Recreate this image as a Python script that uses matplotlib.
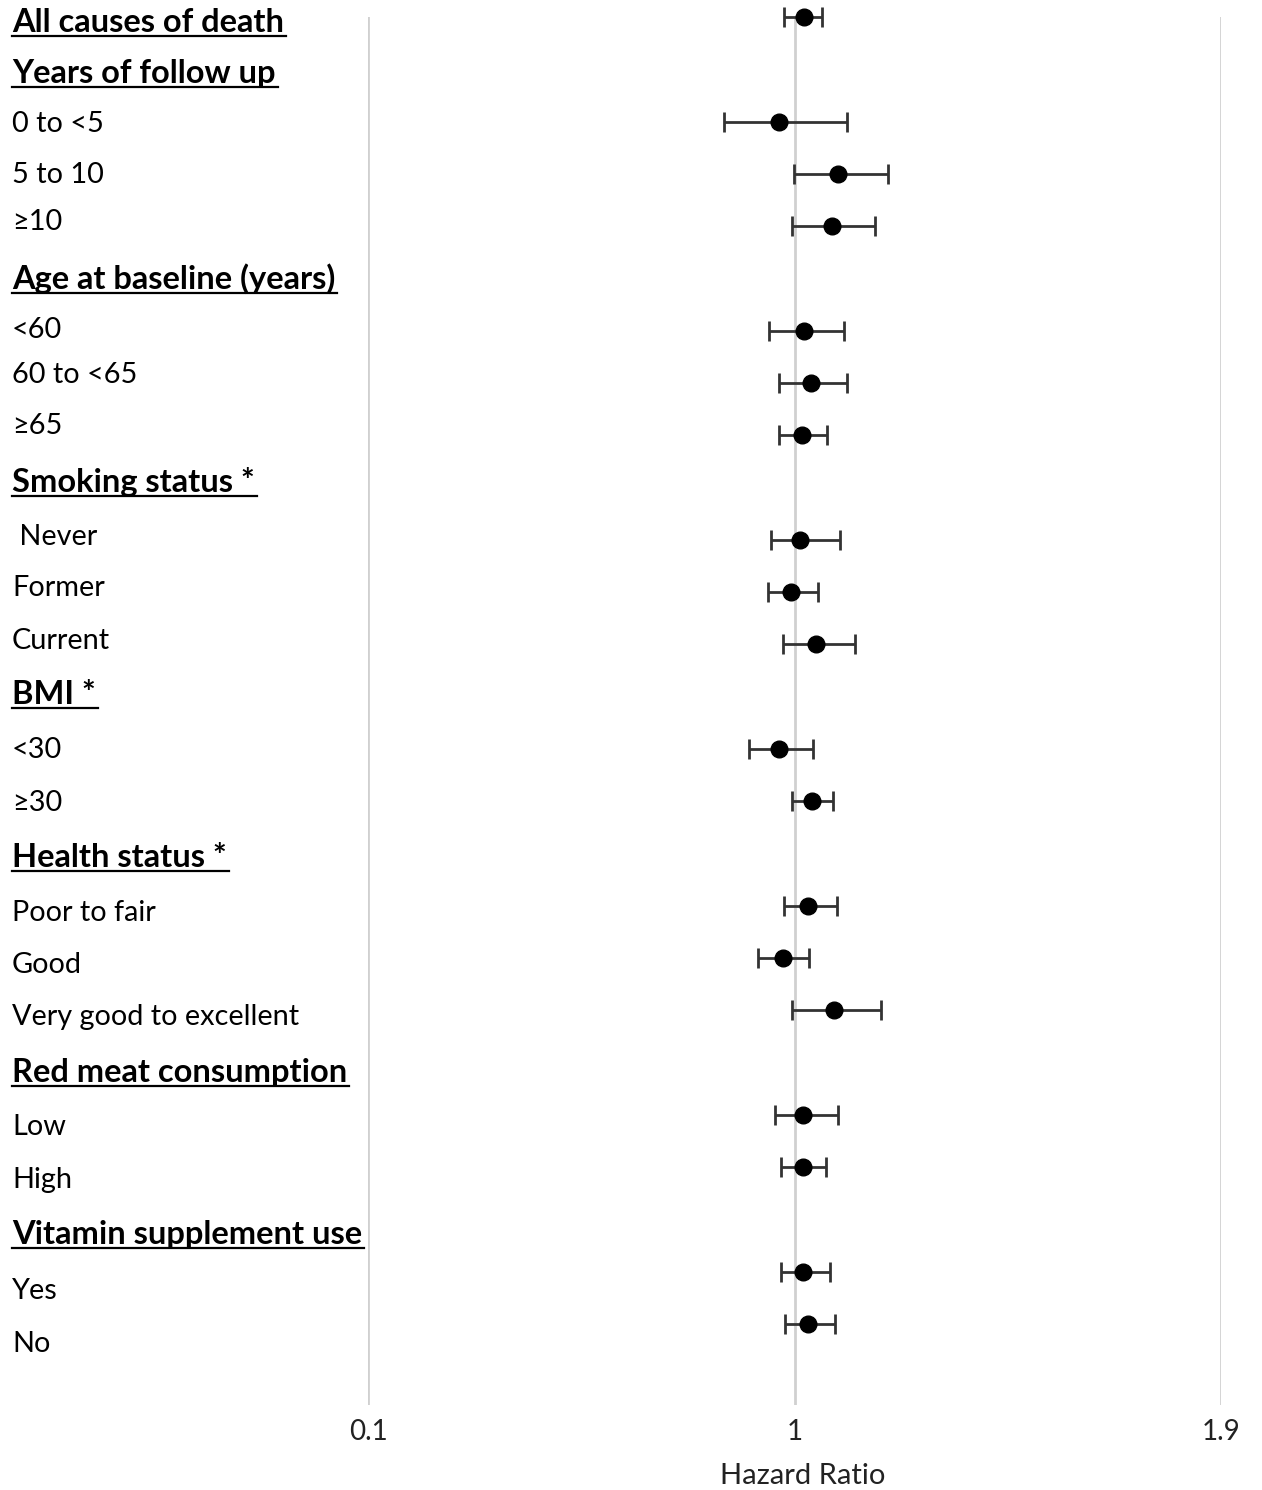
import matplotlib
matplotlib.use("Agg")
import matplotlib.pyplot as plt
from matplotlib.lines import Line2D
from matplotlib.transforms import blended_transform_factory

# ---- data ----
labels = ["All causes of death", "Years of follow up", "0 to <5", "5 to 10", "≥10",
          "Age at baseline (years)", "<60", "60 to <65", "≥65",
          "Smoking status *", " Never", "Former", "Current",
          "BMI *", "<30", "≥30",
          "Health status *", "Poor to fair", "Good", "Very good to excellent",
          "Red meat consumption", "Low", "High",
          "Vitamin supplement use", "Yes", "No"]
is_header = [True, True, False, False, False,
             True, False, False, False,
             True, False, False, False,
             True, False, False,
             True, False, False, False,
             True, False, False,
             True, False, False]
# rows that carry an estimate (row index in the list above)
est_rows = [0, 2, 3, 4, 6, 7, 8, 10, 11, 12, 14, 15, 17, 18, 19, 21, 22, 24, 25]
hr = [1.020, 0.968, 1.091, 1.080, 1.021, 1.034, 1.015, 1.011, 0.993, 1.046,
      0.968, 1.037, 1.028, 0.975, 1.083, 1.018, 1.018, 1.018, 1.028]
ci_lo = [0.977, 0.852, 0.998, 0.995, 0.947, 0.967, 0.967, 0.951, 0.944, 0.975,
         0.903, 0.995, 0.978, 0.922, 0.995, 0.958, 0.972, 0.972, 0.980]
ci_hi = [1.057, 1.110, 1.197, 1.170, 1.104, 1.110, 1.068, 1.096, 1.050, 1.127,
         1.040, 1.082, 1.089, 1.031, 1.182, 1.092, 1.066, 1.074, 1.085]
xticks = [0.1, 1, 1.9]
xtick_labels = ["0.1", "1", "1.9"]

# ---- layout ----
label_pos = [0.06, 1.03, 1.99, 2.98, 3.88, 4.95, 5.93, 6.79, 7.77, 8.84, 9.89,
             10.88, 11.88, 12.91, 13.98, 14.98, 16.03, 17.08, 18.09, 19.07,
             20.14, 21.19, 22.19, 23.24, 24.31, 25.33]
label_shift = 0.05

W, H = 1262, 1490
fig = plt.figure(figsize=(W / 100, H / 100), dpi=100)
fam = ["Lato", "DejaVu Sans"]
plt.rcParams["font.family"] = fam

ax = fig.add_axes([368 / W, 1 - 1405 / H, (1221 - 368) / W, (1405 - 17) / H])
ax.set_xlim(0.1, 1.9)
ax.set_ylim(26.55, 0)
for s in ax.spines.values():
    s.set_visible(False)
ax.set_yticks([])
ax.set_xticks(xticks)
ax.set_xticklabels(xtick_labels, fontsize=20, color="#222222")
ax.tick_params(axis="x", length=0, pad=10)
ax.grid(axis="x", color="#d0d0d0", linewidth=2)
ax.set_axisbelow(True)
ax.set_xlabel("Hazard Ratio", fontsize=21, color="#222222")
ax.xaxis.set_label_coords((803 - 368) / (1221 - 368), -0.042)

xerr = [[h - l for h, l in zip(hr, ci_lo)], [u - h for h, u in zip(hr, ci_hi)]]
ax.errorbar(hr, est_rows, xerr=xerr, fmt="o", color="black", ecolor="#333333",
            elinewidth=2, capsize=7, capthick=2, markersize=12, clip_on=False,
            zorder=3)

tr = blended_transform_factory(fig.transFigure, ax.transData)
texts = []
for lab, hdr, yp in zip(labels, is_header, label_pos):
    t = ax.text(12 / W, yp + label_shift, lab, transform=tr, ha="left", va="center",
                fontsize=23.5 if hdr else 20.8, fontweight="bold" if hdr else "normal",
                color="black", family=fam)
    texts.append((t, hdr))

fig.canvas.draw()
r = fig.canvas.get_renderer()
for t, hdr in texts:
    if hdr:
        bb = t.get_window_extent(r)
        y = bb.y0 + 1
        fig.add_artist(Line2D([bb.x0 / W, (bb.x1 + 2) / W], [y / H, y / H],
                              transform=fig.transFigure, color="black", linewidth=1.6))

fig.savefig("out.png", dpi=100)
